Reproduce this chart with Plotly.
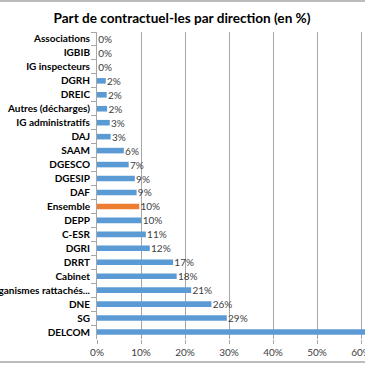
import plotly.graph_objects as go

categories = ["Associations", "IGBIB", "IG inspecteurs", "DGRH", "DREIC", "Autres (décharges)",
              "IG administratifs", "DAJ", "SAAM", "DGESCO", "DGESIP", "DAF", "Ensemble", "DEPP",
              "C-ESR", "DGRI", "DRRT", "Cabinet", "Organismes rattachés...", "DNE", "SG", "DELCOM"]
values = [0.0, 0.0, 0.0, 0.02, 0.022, 0.023, 0.029, 0.031, 0.061, 0.072, 0.086, 0.09, 0.096,
          0.101, 0.111, 0.12, 0.173, 0.181, 0.214, 0.26, 0.295, 0.65]
labels = ["0%", "0%", "0%", "2%", "2%", "2%", "3%", "3%", "6%", "7%", "9%", "9%", "10%",
          "10%", "11%", "12%", "17%", "18%", "21%", "26%", "29%", ""]
x_ticks = [0, 0.1, 0.2, 0.3, 0.4, 0.5, 0.6, 0.7]
highlight = "Ensemble"

colors = ["#ED7D31" if c == highlight else "#5B9BD5" for c in categories]

FIG_W = 420

fig = go.Figure(go.Bar(
    x=values, y=categories, orientation="h",
    marker=dict(color=colors, line=dict(width=0)),
    text=["\u2009" + t if t else t for t in labels],
    textposition="outside", cliponaxis=True, constraintext="none",
    textfont=dict(family="Lato", size=10, color="#404040"),
    hoverinfo="skip",
))

fig.update_layout(
    width=FIG_W, height=365,
    margin=dict(l=97, r=15, t=32, b=26, autoexpand=False),
    paper_bgcolor="white", plot_bgcolor="white",
    bargap=0.6,
    showlegend=False,
    title=dict(text="<b>Part de contractuel-les par direction (en %)</b>",
               x=182 / FIG_W, xref="container", xanchor="center", y=1 - 18 / 365, yref="container",
               yanchor="middle",
               font=dict(family="Lato", size=13.6, color="#000000")),
    font=dict(family="Lato"),
    shapes=[
        dict(type="line", xref="paper", yref="paper", x0=-1, x1=2,
             y0=(339 - 1) / 307, y1=(339 - 1) / 307, line=dict(color="#A6A6A6", width=1.5)),
        dict(type="line", xref="paper", yref="paper", x0=-1, x1=2,
             y0=(339 - 362) / 307, y1=(339 - 362) / 307, line=dict(color="#A6A6A6", width=1.5)),
    ],
)

fig.update_xaxes(
    range=[0, 0.7], tickvals=x_ticks, tickformat=".0%",
    showgrid=True, gridcolor="#A6A6A6", gridwidth=1, zeroline=False, showline=False,
    ticks="outside", ticklen=4, tickcolor="#A6A6A6",
    tickfont=dict(family="Lato", size=10, color="#404040"),
    automargin=False, fixedrange=True,
)
fig.update_yaxes(
    autorange="reversed", type="category",
    showline=True, linecolor="#A6A6A6", linewidth=1,
    ticks="outside", ticklen=5, tickcolor="#A6A6A6", tickson="boundaries",
    tickfont=dict(family="Lato", size=10, color="#000000", weight="bold"),
    ticklabelstandoff=4,
    showgrid=False, automargin=False, fixedrange=True,
)

fig.write_html("out.html", config={"displayModeBar": False, "staticPlot": True},
               post_script="document.body.style.margin='0';document.body.style.overflow='hidden';")
